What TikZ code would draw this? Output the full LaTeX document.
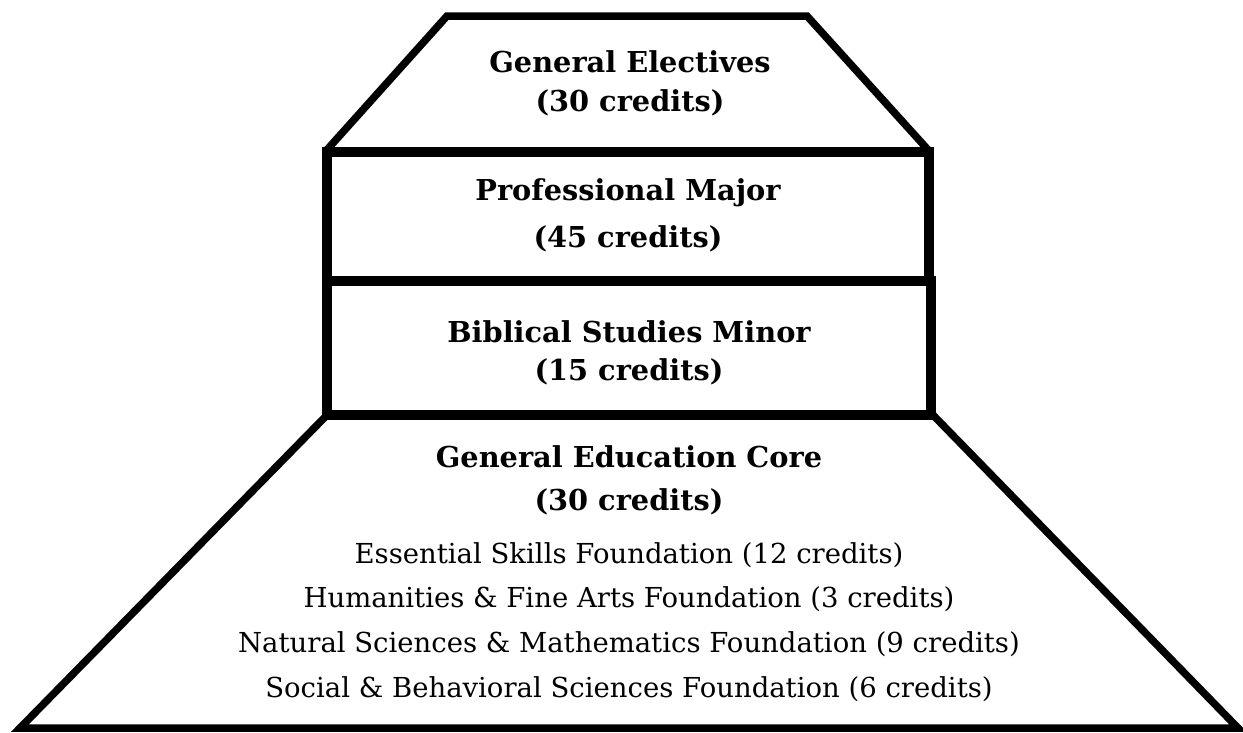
\documentclass[tikz,border=0pt]{standalone}
\usepackage{fontspec}
\setmainfont{DejaVu Serif}
\begin{document}
\begin{tikzpicture}[x=1pt,y=-1pt,
  tier/.style={draw=black,line width=7.5pt,line join=miter},
  band/.style={draw=black,line width=10pt,line join=miter},
  head/.style={anchor=base,inner sep=0pt,font=\fontsize{28.8}{32}\bfseries\selectfont},
  sub/.style={anchor=base,inner sep=0pt,font=\fontsize{27.5}{32}\selectfont}]
\useasboundingbox (0,0) rectangle (1243,732);
% shapes
\coordinate (t1) at (447,16);
\coordinate (t2) at (807,16);
\coordinate (t3) at (930,152);
\coordinate (t4) at (325,152);
\coordinate (b1) at (327,415);
\coordinate (b2) at (933,415);
\coordinate (b3) at (1238,728);
\coordinate (b4) at (20,728);
\draw[tier] (t4) -- (t1) -- (t2) -- (t3);
\draw[tier] (b1) -- (b4) -- (b3) -- (b2);
\draw[band] (327,152) rectangle (929,281);
\draw[band] (327,281) rectangle (931,415);
% texts
\node[head] (ge1) at (630,72) {General Electives};
\node[head] (ge2) at (630,111) {(30 credits)};
\node[head] (pm1) at (628,200) {Professional Major};
\node[head] (pm2) at (628,247) {(45 credits)};
\node[head] (bs1) at (629,342) {Biblical Studies Minor};
\node[head] (bs2) at (629,380) {(15 credits)};
\node[head] (gc1) at (629,467) {General Education Core};
\node[head] (gc2) at (629,510) {(30 credits)};
\node[sub] (s1) at (629,563) {Essential Skills Foundation (12 credits)};
\node[sub] (s2) at (629,607) {Humanities \& Fine Arts Foundation (3 credits)};
\node[sub] (s3) at (629,652) {Natural Sciences \& Mathematics Foundation (9 credits)};
\node[sub] (s4) at (629,697) {Social \& Behavioral Sciences Foundation (6 credits)};
\end{tikzpicture}
\end{document}
